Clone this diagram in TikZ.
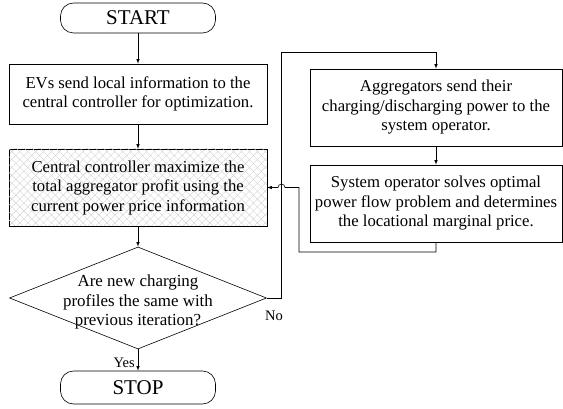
\documentclass[tikz,border=0pt]{standalone}
\usepackage{fontspec}
\setmainfont{Liberation Serif}
\usetikzlibrary{arrows,positioning,shapes.geometric,patterns.meta,calc}

\begin{document}
\begin{tikzpicture}[x=1pt,y=-1pt,>=latex,on grid,line width=0.6pt,
  term/.style={draw,rounded corners=13pt,minimum width=155pt,minimum height=30pt,font=\fontsize{21}{24}\selectfont},
  box/.style={draw,align=center,minimum width=258pt,minimum height=60pt,inner sep=2pt,font=\fontsize{16.7}{19.5}\selectfont},
  hatched/.style={pattern={Lines[angle=45,distance=5.6pt,line width=0.4pt]},pattern color=gray!35,
    postaction={pattern={Lines[angle=-45,distance=5.6pt,line width=0.4pt]},pattern color=gray!35}},
  decision/.style={draw,diamond,minimum width=257pt,minimum height=102pt,inner sep=0pt},
  tag/.style={font=\fontsize{14.5}{16}\selectfont,inner sep=1pt}]
  \useasboundingbox (0,0) rectangle (563,409);
  \node[term]           (start) at (138,18)          {START};
  \node[box]            (ev)    [below=76pt of start]  {EVs send local information to the\\central controller for optimization.};
  \node[box,hatched,minimum height=77pt] (cc) [below=93.5pt of ev]
    {Central controller maximize the\\total aggregator profit using the\\current power price information};
  \node[decision,label={[align=center,yshift=-4pt,font=\fontsize{16.9}{19.5}\selectfont]center:Are new charging\\profiles the same with\\previous iteration?}]
                        (dec)   [below=110.5pt of cc]  {};
  \node[term,minimum height=33pt] (stop) [below=89.5pt of dec] {STOP};
  \node[box,minimum width=252pt,minimum height=77pt] (agg) at (436,107.5)
    {Aggregators send their\\charging/discharging power to the\\system operator.};
  \node[box,minimum width=252pt,minimum height=77pt] (so) [below=96pt of agg]
    {System operator solves optimal\\power flow problem and determines\\the locational marginal price.};
  \coordinate (nobend) at (281.5,298);
  \coordinate (top)    at (281.5,52);
  \coordinate (back)   at (299,252);
  \path[->] (start) edge (ev)
            (ev)    edge (cc)
            (cc)    edge (dec)
            (agg)   edge (so);
  \draw[->] (dec) -- node[tag,pos=0.62,left=2pt] {Yes} (stop);
  \draw[->] (dec.east) -- (nobend) -- (top) -| (agg.north);
  \node[tag] (no) at (274,316) {No};
  \draw[->] (so.south) |- (back) -- (back |- cc.east)
    -- ($(nobend |- cc.east)+(3.5,0)$) arc[start angle=0,end angle=180,radius=3.5pt] -- (cc.east);
\end{tikzpicture}
\end{document}
